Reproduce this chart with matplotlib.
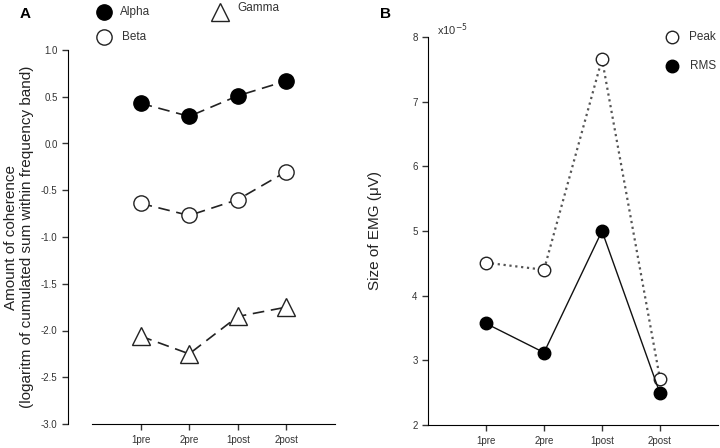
import matplotlib
matplotlib.use("Agg")
import matplotlib.pyplot as plt

plt.rcParams['font.family'] = ['Liberation Sans', 'DejaVu Sans']

categories = ["1pre", "2pre", "1post", "2post"]
alpha = [0.43, 0.29, 0.51, 0.67]
beta = [-0.64, -0.77, -0.60, -0.30]
gamma = [-2.06, -2.25, -1.85, -1.75]
a_yticks = [1.0, 0.5, 0.0, -0.5, -1.0, -1.5, -2.0, -2.5, -3.0]

peak = [4.51, 4.40, 7.66, 2.71]
rms = [3.57, 3.12, 5.00, 2.49]
b_yticks = [2, 3, 4, 5, 6, 7, 8]

W, H = 720, 448
fig = plt.figure(figsize=(7.2, 4.48), dpi=100)

def ax_at(x0, y0, x1, y1):
    return fig.add_axes([x0 / W, 1 - y1 / H, (x1 - x0) / W, (y1 - y0) / H])

tick_col = '#333333'
xpos = [1, 2, 3, 4]

# Panel A
axA = ax_at(92, 50, 335, 424)
axA.plot(xpos, alpha, color='#222222', lw=1.2, dashes=(7, 4), marker='o', ms=11,
         mfc='black', mec='black', zorder=3)
axA.plot(xpos, beta, color='#222222', lw=1.2, dashes=(7, 4), marker='o', ms=11,
         mfc='white', mec='#222222', mew=1.0, zorder=3)
axA.plot(xpos, gamma, color='#222222', lw=1.2, dashes=(7, 4), marker='^', ms=13,
         mfc='white', mec='#222222', mew=1.0, zorder=3)
axA.set_xlim(0, 5)
axA.set_ylim(-3.0, 1.0)
axA.set_yticks(a_yticks)
axA.set_yticklabels([f"{v:.1f}" for v in a_yticks])
axA.set_xticks(xpos)
axA.set_xticklabels(categories)
axA.spines['top'].set_visible(False)
axA.spines['right'].set_visible(False)
axA.spines['left'].set_position(('outward', 17.3))
axA.tick_params(labelsize=7, colors=tick_col, length=4, width=1)
axA.tick_params(axis='x', pad=4)
axA.set_ylabel("Amount of coherence\n(logaritm of cumulated sum within frequency band)",
               fontsize=11, color='#222222', labelpad=5)

# Panel B
axB = ax_at(428, 37, 718, 425)
axB.plot(xpos, peak, color='#555555', lw=1.6, ls=':', marker='o', ms=9,
         mfc='white', mec='#222222', mew=1.0, zorder=3)
axB.plot(xpos, rms, color='#111111', lw=1.0, ls='-', marker='o', ms=9,
         mfc='black', mec='black', zorder=4)
axB.set_xlim(0, 5)
axB.set_ylim(2, 8)
axB.set_yticks(b_yticks)
axB.set_yticklabels([str(v) for v in b_yticks])
axB.set_xticks(xpos)
axB.set_xticklabels(categories)
axB.spines['top'].set_visible(False)
axB.spines['right'].set_visible(False)
axB.tick_params(labelsize=7, colors=tick_col, length=4, width=1)
axB.tick_params(axis='x', pad=4)
axB.set_ylabel("Size of EMG (\u03bcV)", fontsize=11, color='#222222', labelpad=22)

# Overlay for legends / labels (pixel coordinates)
lg = fig.add_axes([0, 0, 1, 1], facecolor='none')
lg.set_xlim(0, W); lg.set_ylim(H, 0); lg.axis('off')

lg.text(20, 14, "A", fontsize=11, fontweight='bold', va='center', ha='left')
lg.plot([104], [12], 'o', ms=11, mfc='black', mec='black')
lg.text(120, 12, "Alpha", fontsize=8.5, va='center', color='#333333')
lg.plot([104], [37], 'o', ms=11, mfc='white', mec='#222222', mew=1.0)
lg.text(122, 37, "Beta", fontsize=8.5, va='center', color='#333333')
lg.plot([220], [12], '^', ms=13, mfc='white', mec='#222222', mew=1.0)
lg.text(237, 8, "Gamma", fontsize=8.5, va='center', color='#333333')

lg.text(380, 14, "B", fontsize=11, fontweight='bold', va='center', ha='left')
lg.text(437, 30, "x10$^{-5}$", fontsize=8, va='center', color='#333333')
lg.plot([672], [37], 'o', ms=9, mfc='white', mec='#222222', mew=1.0)
lg.text(689, 37, "Peak", fontsize=8.5, va='center', color='#333333')
lg.plot([672], [66], 'o', ms=9, mfc='black', mec='black')
lg.text(690, 66, "RMS", fontsize=8.5, va='center', color='#333333')

fig.savefig("out.png", dpi=100)
